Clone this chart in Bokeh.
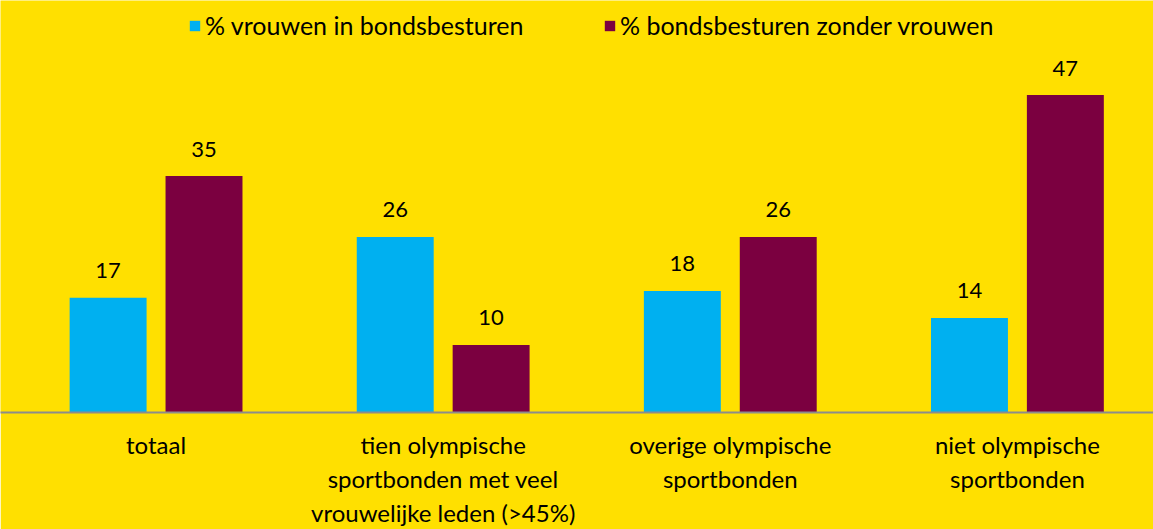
from bokeh.plotting import figure
from bokeh.models import ColumnDataSource, Range1d, FixedTicker, Legend, LegendItem
from bokeh.core.properties import value
from bokeh.embed import file_html
from bokeh.resources import INLINE

categories = ["totaal", "tien olympische\nsportbonden met veel\nvrouwelijke leden (>45%)",
              "overige olympische\nsportbonden", "niet olympische\nsportbonden"]
series_names = ["% vrouwen in bondsbesturen", "% bondsbesturen zonder vrouwen"]
vrouwen = [17, 26, 18, 14]
zonder = [35, 10, 26, 47]

BG = "#FFE000"
C1 = "#00B0F0"
C2 = "#7B0040"
FONT = "Lato"

idx = list(range(len(categories)))
off = 0.167
bw = 0.268

p = figure(width=1153, height=529, output_backend="svg", toolbar_location=None,
           x_range=Range1d(-0.5418, 3.474), y_range=Range1d(0, 61), y_axis_location=None,
           min_border_left=0, min_border_right=0, min_border_top=0, min_border_bottom=116)
p.background_fill_color = BG
p.border_fill_color = BG
p.outline_line_color = None
p.xgrid.visible = False
p.ygrid.visible = False

s1 = ColumnDataSource(dict(x=[i - off for i in idx], top=vrouwen, lab=[str(v) for v in vrouwen]))
s2 = ColumnDataSource(dict(x=[i + off for i in idx], top=zonder, lab=[str(v) for v in zonder]))
r1 = p.vbar(x="x", top="top", width=bw, bottom=0, source=s1, fill_color=C1, line_color=None)
r2 = p.vbar(x="x", top="top", width=bw, bottom=0, source=s2, fill_color=C2, line_color=None)

for s in (s1, s2):
    p.text(x="x", y="top", text="lab", source=s, text_align="center", text_baseline="alphabetic",
           y_offset=-27, text_font=value(FONT), text_font_size="22px", text_color="#000000")

ax = p.xaxis[0]
ax.ticker = FixedTicker(ticks=idx)
ax.major_label_overrides = {i: c for i, c in zip(idx, categories)}
ax.major_tick_line_color = None
ax.minor_tick_line_color = None
ax.axis_line_color = "#8C8C8C"
ax.axis_line_width = 2
ax.major_label_text_font = FONT
ax.major_label_text_font_size = "24px"
ax.major_label_text_color = "#000000"
ax.major_label_text_line_height = 1.18
ax.major_label_standoff = 11

for r, name, x in ((r1, series_names[0], 188), (r2, series_names[1], 603)):
    lg = Legend(items=[LegendItem(label=name, renderers=[r])], location=(x, 372),
                orientation="horizontal", background_fill_alpha=0, border_line_alpha=0,
                padding=0, margin=0, glyph_width=13, glyph_height=13, label_standoff=4,
                label_text_font=FONT, label_text_font_size="25px", label_height=20,
                label_text_color="#000000")
    p.add_layout(lg, "center")

open("out.html", "w").write(file_html(p, INLINE))
